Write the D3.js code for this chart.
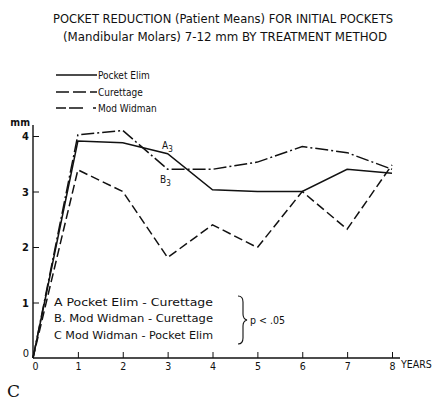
<!DOCTYPE html>
<html><head><meta charset="utf-8">
<script src="https://cdn.jsdelivr.net/npm/d3@7"></script>
<style>html,body{margin:0;padding:0;background:#fff}</style>
</head><body><div id="chart"></div>
<script>
const years = [0,1,2,3,4,5,6,7,8];
const xTicks = [0,1,2,3,4,5,6,7,8];
const yTicks = [0,1,2,3,4];
const pocketElim = [0,3.91,3.88,3.68,3.03,3.0,3.0,3.4,3.33];
const curettage  = [0,3.39,3.0,1.81,2.40,1.99,3.0,2.32,3.48];
const modWidman  = [0,4.02,4.1,3.40,3.40,3.53,3.81,3.70,3.40];
const seriesNames = ["Pocket Elim","Curettage","Mod Widman"];
const titleLines = ["POCKET REDUCTION (Patient Means) FOR INITIAL POCKETS","(Mandibular Molars) 7-12 mm  BY TREATMENT METHOD"];
const notes = ["A  Pocket Elim - Curettage","B. Mod  Widman - Curettage","C  Mod  Widman - Pocket Elim"];

const W=440,H=403;
const svg=d3.select("#chart").append("svg").attr("width",W).attr("height",H);
const x=d3.scaleLinear().domain([0,8]).range([33,392]);
const y=d3.scaleLinear().domain([0,4]).range([358,136]);
const ink="#111";
const dashes=[null,"9,4","13,3,2,3"];
const series=[pocketElim,curettage,modWidman];
const ff="DejaVu Sans Condensed, DejaVu Sans";

// title
const tw=[340,324], tx=[223,225], ty=[23,41];
titleLines.forEach((t,i)=>svg.append("text").attr("x",tx[i]).attr("y",ty[i]).attr("text-anchor","middle")
  .attr("font-family",ff).attr("font-size",12.5).attr("fill",ink)
  .attr("textLength",tw[i]).attr("lengthAdjust","spacingAndGlyphs").text(t));

// legend
const ly=[75,92,108];
seriesNames.forEach((n,i)=>{
  svg.append("line").attr("x1",56).attr("x2",97).attr("y1",ly[i]).attr("y2",ly[i])
    .attr("stroke",ink).attr("stroke-width",1.4).attr("stroke-dasharray",i==1?"13,4":(i==2?"10,3,14":null));
  svg.append("text").attr("x",98).attr("y",ly[i]+3.5).attr("font-family",ff)
    .attr("font-size",10).attr("fill",ink).text(n);
});

// axes
const xAxis=d3.axisBottom(x).tickValues(xTicks).tickSize(-6).tickPadding(5).tickFormat(d3.format("d"));
const gx=svg.append("g").attr("transform","translate(0,358)").call(xAxis);
gx.select(".domain").attr("d","M33,0H400").attr("stroke",ink).attr("stroke-width",1.4);
gx.selectAll(".tick line").attr("stroke",ink);
gx.selectAll(".tick text").attr("font-family",ff).attr("font-size",10.5).attr("fill",ink);
gx.selectAll(".tick").filter(d=>d===0).select("text").attr("dx",2);
const yAxis=d3.axisLeft(y).tickValues(yTicks).tickSize(-6).tickPadding(4).tickFormat(d3.format("d"));
const gy=svg.append("g").attr("transform","translate(33,0)").call(yAxis);
gy.select(".domain").attr("d","M0,125V358").attr("stroke",ink).attr("stroke-width",1.4);
gy.selectAll(".tick line").attr("stroke",ink);
gy.selectAll(".tick text").attr("font-family",ff).attr("font-size",11).attr("font-weight","bold").attr("fill",ink);
gy.selectAll(".tick").filter(d=>d===0).select("text").attr("dy","-0.1em").attr("font-weight","normal");
gy.selectAll(".tick").filter(d=>d===0).select("line").remove();
gx.selectAll(".tick").filter(d=>d===0).select("line").remove();
svg.append("text").attr("x",30).attr("y",126).attr("text-anchor","end").attr("font-family",ff)
  .attr("font-size",10.5).attr("font-weight","bold").attr("fill",ink).text("mm");
svg.append("text").attr("x",401).attr("y",368).attr("font-family",ff)
  .attr("font-size",10.5).attr("fill",ink).text("YEARS");

// lines
const line=d3.line().x((d,i)=>x(years[i])).y(d=>y(d));
series.forEach((s,i)=>svg.append("path").datum(s).attr("d",line).attr("fill","none")
  .attr("stroke",ink).attr("stroke-width",1.5).attr("stroke-dasharray",dashes[i]));

// labels A3 B3
function sub(xp,yp,l){const t=svg.append("text").attr("x",xp).attr("y",yp).attr("font-family",ff).attr("font-size",10).attr("fill",ink);
  t.append("tspan").text(l); t.append("tspan").attr("dy",3).attr("font-size",8).text("3");}
sub(162,149,"A"); sub(160,183,"B");

// notes
notes.forEach((n,i)=>svg.append("text").attr("x",54).attr("y",306+i*16.3).attr("font-family",ff)
  .attr("font-size",10).attr("fill",ink).attr("textLength",159).attr("lengthAdjust","spacingAndGlyphs").text(n));
svg.append("path").attr("d","M238,296 Q243,296 243,302 V314 Q243,319 247,320 Q243,321 243,326 V338 Q243,344 238,344")
  .attr("fill","none").attr("stroke",ink).attr("stroke-width",1.1);
svg.append("text").attr("x",250).attr("y",324).attr("font-family",ff)
  .attr("font-size",10.5).attr("fill",ink).text("p < .05");

svg.append("text").attr("x",7).attr("y",397).attr("font-family","DejaVu Serif, Liberation Serif").attr("font-size",17).attr("fill",ink).text("C");
</script></body></html>
